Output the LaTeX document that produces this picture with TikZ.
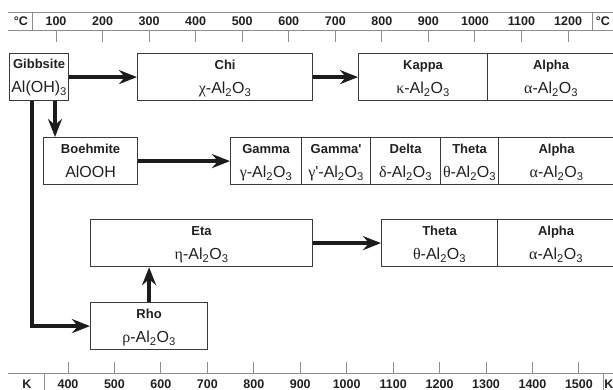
\documentclass[tikz,border=0pt]{standalone}
\usepackage{fontspec}
\setmainfont{Liberation Sans}
\newfontfamily\grk{Liberation Serif}
\usetikzlibrary{arrows.meta}

\definecolor{boxline}{HTML}{3A3A3A}
\definecolor{flowcol}{HTML}{1C1C1C}
\definecolor{axisgray}{HTML}{8C8C8C}
\definecolor{txt}{HTML}{202020}

\newcommand{\alox}{Al\textsubscript{2}O\textsubscript{3}}

\begin{document}
\begin{tikzpicture}[x=1pt, y=-1pt,
  phase/.style={rectangle, draw=boxline, line width=1.2pt, minimum height=47pt,
    inner sep=0pt, anchor=north west},
  pname/.style={anchor=base, inner sep=0pt, text=txt, font=\fontsize{13}{15}\selectfont\bfseries},
  pform/.style={anchor=base, inner sep=0pt, text=txt, font=\fontsize{16}{18}\selectfont},
  axlab/.style={anchor=base, inner sep=0pt, text=txt, font=\fontsize{12.5}{14}\selectfont\bfseries},
  axis/.style={draw=axisgray, line width=1pt},
  flow/.style={draw=flowcol, line width=4.6pt,
    -{Stealth[length=18pt, width=14pt, inset=6pt]}},
]
\useasboundingbox (0,0) rectangle (613,390);

% ============================================================
% TEMPERATURE SCALES
% ============================================================
\draw[axis] (8,13) -- (613,13);
\draw[axis] (8,30.5) -- (613,30.5);
\draw[axis] (32,13) -- (32,30.5);
\draw[axis] (592,13) -- (592,30.5);
\node[axlab] (degl) at (21,26) {°C};
\node[axlab] (degr) at (603,26) {°C};
\foreach \t in {100,200,...,1200}{
  \node[axlab] (c\t) at ({56+(\t-100)*0.4655},26) {\t};
  \draw[axis] ({56+(\t-100)*0.4655},31) -- ++(0,11);
}

\draw[axis] (8,373) -- (613,373);
\draw[axis] (44,373) -- (44,390);
\draw[axis] (603,373) -- (603,390);
\node[axlab] (kl) at (27,388) {K};
\node[axlab] (kr) at (609,388) {K};
\foreach \k in {400,500,...,1500}{
  \node[axlab] (k\k) at ({68+(\k-400)*0.4645},388) {\k};
  \draw[axis] ({68+(\k-400)*0.4645},362) -- ++(0,11);
}

% ============================================================
% ROW 1: Gibbsite -> Chi -> Kappa -> Alpha
% ============================================================
\node[phase, minimum width=59pt] (gibb) at (9,53) {};
\node[pname] (gibb-n) at ([yshift=-16pt]gibb.north) {Gibbsite};
\node[pform] (gibb-f) at ([yshift=-40pt]gibb.north) {Al(OH)\textsubscript{3}};

\node[phase, minimum width=175pt] (chi) at (137,53) {};
\node[pname] (chi-n) at ([yshift=-16.5pt]chi.north) {Chi};
\node[pform] (chi-f) at ([yshift=-40.5pt]chi.north) {{\grk χ}-\alox};

\node[phase, minimum width=129pt] (kap) at (358,53) {};
\node[pname] (kap-n) at ([yshift=-16.5pt]kap.north) {Kappa};
\node[pform] (kap-f) at ([yshift=-40.5pt]kap.north) {{\grk κ}-\alox};

\node[phase, minimum width=127pt] (alp1) at (487,53) {};
\node[pname] (alp1-n) at ([yshift=-16.5pt]alp1.north) {Alpha};
\node[pform] (alp1-f) at ([yshift=-40.5pt]alp1.north) {{\grk α}-\alox};

\draw[flow] (gibb.east) -- (chi.west);
\draw[flow] (chi.east) -- (kap.west);

% ============================================================
% ROW 2: Boehmite -> Gamma -> Gamma' -> Delta -> Theta -> Alpha
% ============================================================
\node[phase, minimum width=94pt] (boeh) at (43,137) {};
\node[pname] (boeh-n) at ([yshift=-16.5pt]boeh.north) {Boehmite};
\node[pform] (boeh-f) at ([yshift=-40.5pt]boeh.north) {AlOOH};

\node[phase, minimum width=71pt] (gam) at (230,137) {};
\node[pname] (gam-n) at ([yshift=-16.5pt]gam.north) {Gamma};
\node[pform] (gam-f) at ([yshift=-40.5pt]gam.north) {{\grk γ}-\alox};

\node[phase, minimum width=69pt] (gamp) at (301,137) {};
\node[pname] (gamp-n) at ([yshift=-16.5pt]gamp.north) {Gamma\textquotesingle};
\node[pform] (gamp-f) at ([yshift=-40.5pt]gamp.north) {{\grk γ}\textquotesingle-\alox};

\node[phase, minimum width=70pt] (del) at (370,137) {};
\node[pname] (del-n) at ([yshift=-16.5pt]del.north) {Delta};
\node[pform] (del-f) at ([yshift=-40.5pt]del.north) {{\grk δ}-\alox};

\node[phase, minimum width=58pt] (the2) at (440,137) {};
\node[pname] (the2-n) at ([yshift=-16.5pt]the2.north) {Theta};
\node[pform] (the2-f) at ([yshift=-40.5pt]the2.north) {{\grk θ}-\alox};

\node[phase, minimum width=116pt] (alp2) at (498,137) {};
\node[pname] (alp2-n) at ([yshift=-16.5pt]alp2.north) {Alpha};
\node[pform] (alp2-f) at ([yshift=-40.5pt]alp2.north) {{\grk α}-\alox};

\draw[flow] ([xshift=46pt]gibb.south west) -- ([xshift=46pt]gibb.south west |- boeh.north);
\draw[flow] (boeh.east) -- (gam.west);

% ============================================================
% ROW 3: Rho -> Eta -> Theta -> Alpha
% ============================================================
\node[phase, minimum width=222pt] (eta) at (90,219) {};
\node[pname] (eta-n) at ([yshift=-16.5pt]eta.north) {Eta};
\node[pform] (eta-f) at ([yshift=-40.5pt]eta.north) {{\grk η}-\alox};

\node[phase, minimum width=116pt] (the3) at (381,219) {};
\node[pname] (the3-n) at ([yshift=-16.5pt]the3.north) {Theta};
\node[pform] (the3-f) at ([yshift=-40.5pt]the3.north) {{\grk θ}-\alox};

\node[phase, minimum width=117pt] (alp3) at (497,219) {};
\node[pname] (alp3-n) at ([yshift=-16.5pt]alp3.north) {Alpha};
\node[pform] (alp3-f) at ([yshift=-40.5pt]alp3.north) {{\grk α}-\alox};

\node[phase, minimum width=117pt] (rho) at (90,302) {};
\node[pname] (rho-n) at ([yshift=-16.5pt]rho.north) {Rho};
\node[pform] (rho-f) at ([yshift=-40.5pt]rho.north) {{\grk ρ}-\alox};

\draw[flow] ([xshift=23pt]gibb.south west) |- (rho.west);
\draw[flow] (rho.north) -- (rho.north |- eta.south);
\draw[flow] (eta.east) -- (the3.west);

\end{tikzpicture}
\end{document}
